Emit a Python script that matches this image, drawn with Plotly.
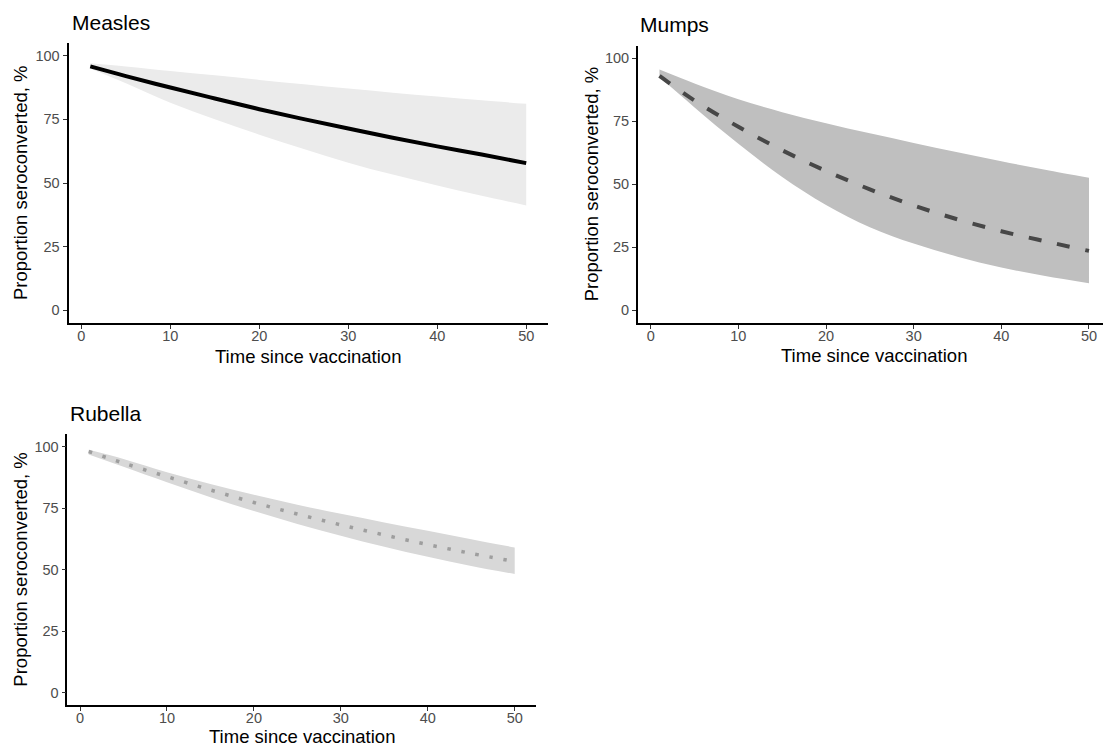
import plotly.graph_objects as go

# ---------------- data ----------------
t = [1, 5, 10, 15, 20, 25, 30, 35, 40, 45, 50]

measles_mid = [95.8, 92.0, 87.5, 83.2, 79.0, 75.1, 71.4, 67.8, 64.4, 61.2, 57.8]
measles_hi = [97.0, 95.8, 94.0, 92.3, 90.5, 88.8, 87.1, 85.5, 84.0, 82.5, 81.1]
measles_lo = [95.0, 89.2, 81.5, 75.0, 69.0, 63.4, 58.0, 53.3, 49.0, 45.0, 41.2]

mumps_mid = [93.0, 83.2, 72.8, 63.5, 55.3, 48.0, 41.6, 36.1, 31.4, 27.4, 23.6]
mumps_hi = [95.5, 90.0, 83.7, 78.6, 74.2, 70.2, 66.4, 62.7, 59.1, 55.8, 52.6]
mumps_lo = [92.5, 80.5, 66.1, 52.9, 41.8, 33.0, 26.5, 21.3, 17.0, 13.6, 10.8]

rubella_mid = [98.0, 93.3, 87.8, 82.4, 77.3, 72.6, 68.2, 64.1, 60.2, 56.6, 53.3]
rubella_hi = [98.7, 95.0, 89.6, 84.8, 80.4, 76.4, 72.7, 69.2, 65.8, 62.4, 59.0]
rubella_lo = [96.8, 91.8, 85.5, 79.4, 73.8, 68.6, 63.8, 59.3, 55.2, 51.5, 48.2]

x_ticks = [0, 10, 20, 30, 40, 50]
y_ticks = [0, 25, 50, 75, 100]

titles = ["Measles", "Mumps", "Rubella"]
x_title = "Time since vaccination"
y_title = "Proportion seroconverted, %"

# ---------------- layout geometry ----------------
W, H = 1103, 747
FONT = "Liberation Sans, Arial, sans-serif"

def px_x(p):
    return p / W

def px_y(p):
    return 1 - p / H

panels = [
    dict(mid=measles_mid, hi=measles_hi, lo=measles_lo,
         x0=68.5, x1=548, xr=[-1.45, 52.45], yt=43, yb=323,
         fill="#ebebeb", lc="#000000", dash="solid", lw=4,
         title_xy=(69.5, 22), xt_xy=(308, 357), ytitle_x=21),
    dict(mid=mumps_mid, hi=mumps_hi, lo=mumps_lo,
         x0=638, x1=1103, xr=[-1.45, 51.6], yt=45.6, yb=323,
         fill="#bfbfbf", lc="#474747", dash="13px,16px", lw=4,
         title_xy=(638.4, 25), xt_xy=(874, 356), ytitle_x=591),
    dict(mid=rubella_mid, hi=rubella_hi, lo=rubella_lo,
         x0=67.4, x1=536, xr=[-1.45, 52.45], yt=434.3, yb=705,
         fill="#d8d8d8", lc="#9e9e9e", dash="3.5px,10.8px", lw=3.5,
         title_xy=(68.4, 413), xt_xy=(302, 736), ytitle_x=21),
]

fig = go.Figure()
annotations = []

for i, p in enumerate(panels):
    k = "" if i == 0 else str(i + 1)
    xa, ya = "x" + k, "y" + k
    fig.add_trace(go.Scatter(x=t, y=p["hi"], mode="lines", line=dict(width=0, shape="spline"),
                             xaxis=xa, yaxis=ya, showlegend=False, hoverinfo="skip"))
    fig.add_trace(go.Scatter(x=t, y=p["lo"], mode="lines", line=dict(width=0, shape="spline"),
                             fill="tonexty", fillcolor=p["fill"],
                             xaxis=xa, yaxis=ya, showlegend=False, hoverinfo="skip"))
    fig.add_trace(go.Scatter(x=t, y=p["mid"], mode="lines",
                             line=dict(color=p["lc"], width=p["lw"], dash=p["dash"], shape="spline"),
                             xaxis=xa, yaxis=ya, showlegend=False))

    axis_common = dict(showline=True, linecolor="black", linewidth=1.8, ticks="outside",
                       ticklen=4, tickwidth=1.2, tickcolor="#333333", showgrid=False,
                       zeroline=False, tickfont=dict(family=FONT, size=14.5, color="#4d4d4d"))
    fig.update_layout(**{
        "xaxis" + k: dict(domain=[px_x(p["x0"]), px_x(p["x1"])], range=p["xr"],
                          tickvals=x_ticks, anchor=ya, ticklabelstandoff=-5, **axis_common),
        "yaxis" + k: dict(domain=[px_y(p["yb"]), px_y(p["yt"])], range=[-5, 105],
                          tickvals=y_ticks, anchor=xa, **axis_common),
    })

    annotations.append(dict(text=titles[i], x=px_x(p["title_xy"][0]), y=px_y(p["title_xy"][1]),
                            xref="paper", yref="paper", xanchor="left", yanchor="middle",
                            showarrow=False, font=dict(family=FONT, size=21, color="black")))
    annotations.append(dict(text=x_title, x=px_x(p["xt_xy"][0]), y=px_y(p["xt_xy"][1]),
                            xref="paper", yref="paper", xanchor="center", yanchor="middle",
                            showarrow=False, font=dict(family=FONT, size=18.5, color="black")))
    annotations.append(dict(text=y_title, x=px_x(p["ytitle_x"]), y=px_y((p["yt"] + p["yb"]) / 2),
                            xref="paper", yref="paper", xanchor="center", yanchor="middle",
                            textangle=-90, showarrow=False,
                            font=dict(family=FONT, size=18.5, color="black")))

fig.update_layout(width=W, height=H, margin=dict(l=0, r=0, t=0, b=0),
                  plot_bgcolor="white", paper_bgcolor="white",
                  annotations=annotations, font=dict(family=FONT))

fig.write_html("out.html")
